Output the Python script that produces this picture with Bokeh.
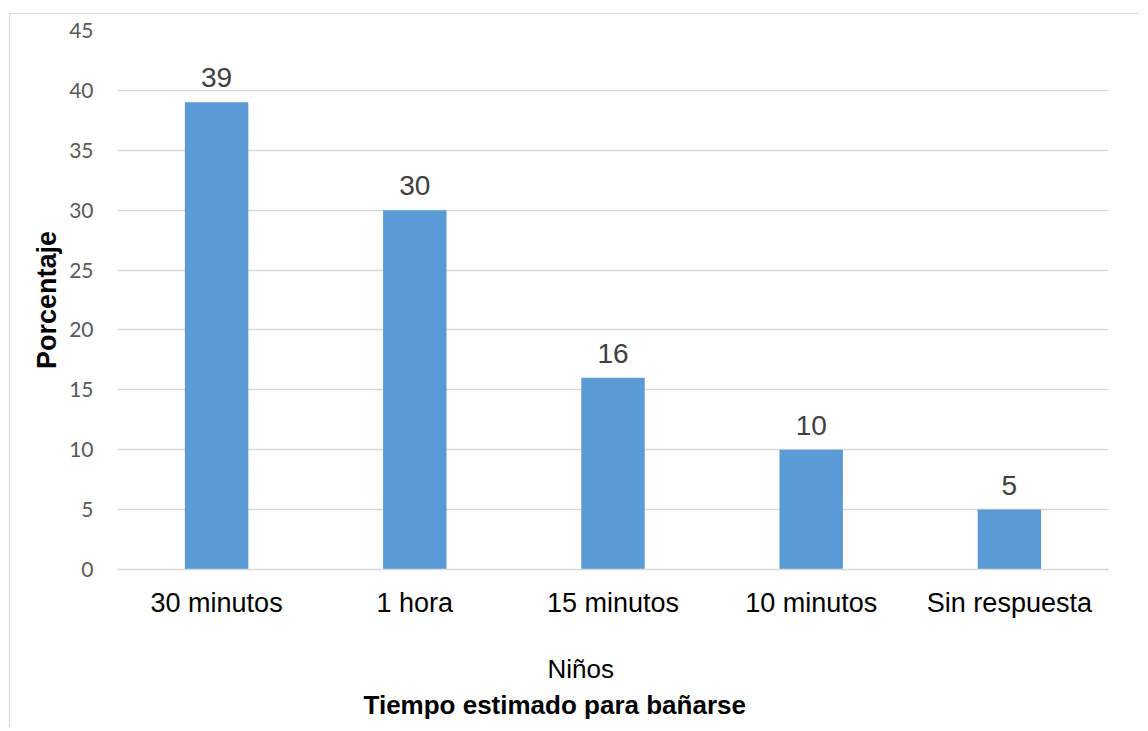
from bokeh.plotting import figure
from bokeh.models import ColumnDataSource, LabelSet, FixedTicker, Range1d, Title
from bokeh.core.properties import value
from bokeh.embed import file_html
from bokeh.resources import INLINE

categories = ["30 minutos", "1 hora", "15 minutos", "10 minutos", "Sin respuesta"]
values = [39, 30, 16, 10, 5]
y_ticks = [0, 5, 10, 15, 20, 25, 30, 35, 40, 45]
y_title = "Porcentaje"
x_title_1 = "Niños"
x_title_2 = "Tiempo estimado para bañarse"

src = ColumnDataSource(data=dict(cat=categories, val=values, lbl=[str(v) for v in values]))

FL, FT, FW, FH = 107, 16, 991, 539
W, H = 1130, 714
p = figure(x_range=categories, y_range=Range1d(0, 45), width=W, height=H,
           output_backend="svg", toolbar_location=None,
           min_border_left=FL, min_border_right=W - FL - FW,
           min_border_top=FT, min_border_bottom=H - FT - FH)
p.margin = (13, 0, 0, 9)
p.styles = {"border-top": "1.5px solid #d9d9d9", "border-left": "1.5px solid #d9d9d9"}
p.outline_line_color = None
p.background_fill_color = "white"
p.border_fill_color = "white"

p.vbar(x="cat", top="val", width=0.32, source=src, color="#5b9bd5", line_color=None)

p.add_layout(LabelSet(x="cat", y="val", text="lbl", source=src, text_align="center",
                      text_baseline="bottom", y_offset=15, text_font=value("Liberation Sans"),
                      text_font_size=value("28px"), text_color="#404040"))

p.yaxis.ticker = FixedTicker(ticks=y_ticks)
p.yaxis.axis_line_color = None
p.yaxis.major_tick_line_color = None
p.yaxis.minor_tick_line_color = None
p.yaxis.major_label_text_font = "Lato"
p.yaxis.major_label_text_font_size = "21px"
p.yaxis.major_label_text_color = "#595959"
p.yaxis.major_label_standoff = 18
p.yaxis.axis_label = y_title
p.yaxis.axis_label_text_font = "Liberation Sans"
p.yaxis.axis_label_text_font_style = "bold"
p.yaxis.axis_label_text_font_size = "27px"
p.yaxis.axis_label_text_color = "black"
p.yaxis.axis_label_standoff = 4

p.xaxis.axis_line_color = "#d9d9d9"
p.xaxis.axis_line_width = 1.5
p.xaxis.major_tick_line_color = None
p.xaxis.minor_tick_line_color = None
p.xaxis.major_label_text_font = "Liberation Sans"
p.xaxis.major_label_text_font_size = "27px"
p.xaxis.major_label_text_color = "black"
p.xaxis.major_label_standoff = 12
# invisible spacer label to push the two titles down
p.xaxis.axis_label = " "
p.xaxis.axis_label_text_font_size = "20px"
p.xaxis.axis_label_standoff = 0

p.xgrid.grid_line_color = None
p.ygrid.grid_line_color = "#d9d9d9"
p.ygrid.grid_line_width = 1.5

t1 = Title(text=x_title_1, align="left", offset=430, standoff=12,
           text_font="Liberation Sans", text_font_size="26px", text_font_style="normal",
           text_color="black")
t2 = Title(text=x_title_2, align="left", offset=246, standoff=-4,
           text_font="Liberation Sans", text_font_size="26px", text_font_style="bold",
           text_color="black")
p.add_layout(t1, "below")
p.add_layout(t2, "below")

open("out.html", "w").write(file_html(p, INLINE))
